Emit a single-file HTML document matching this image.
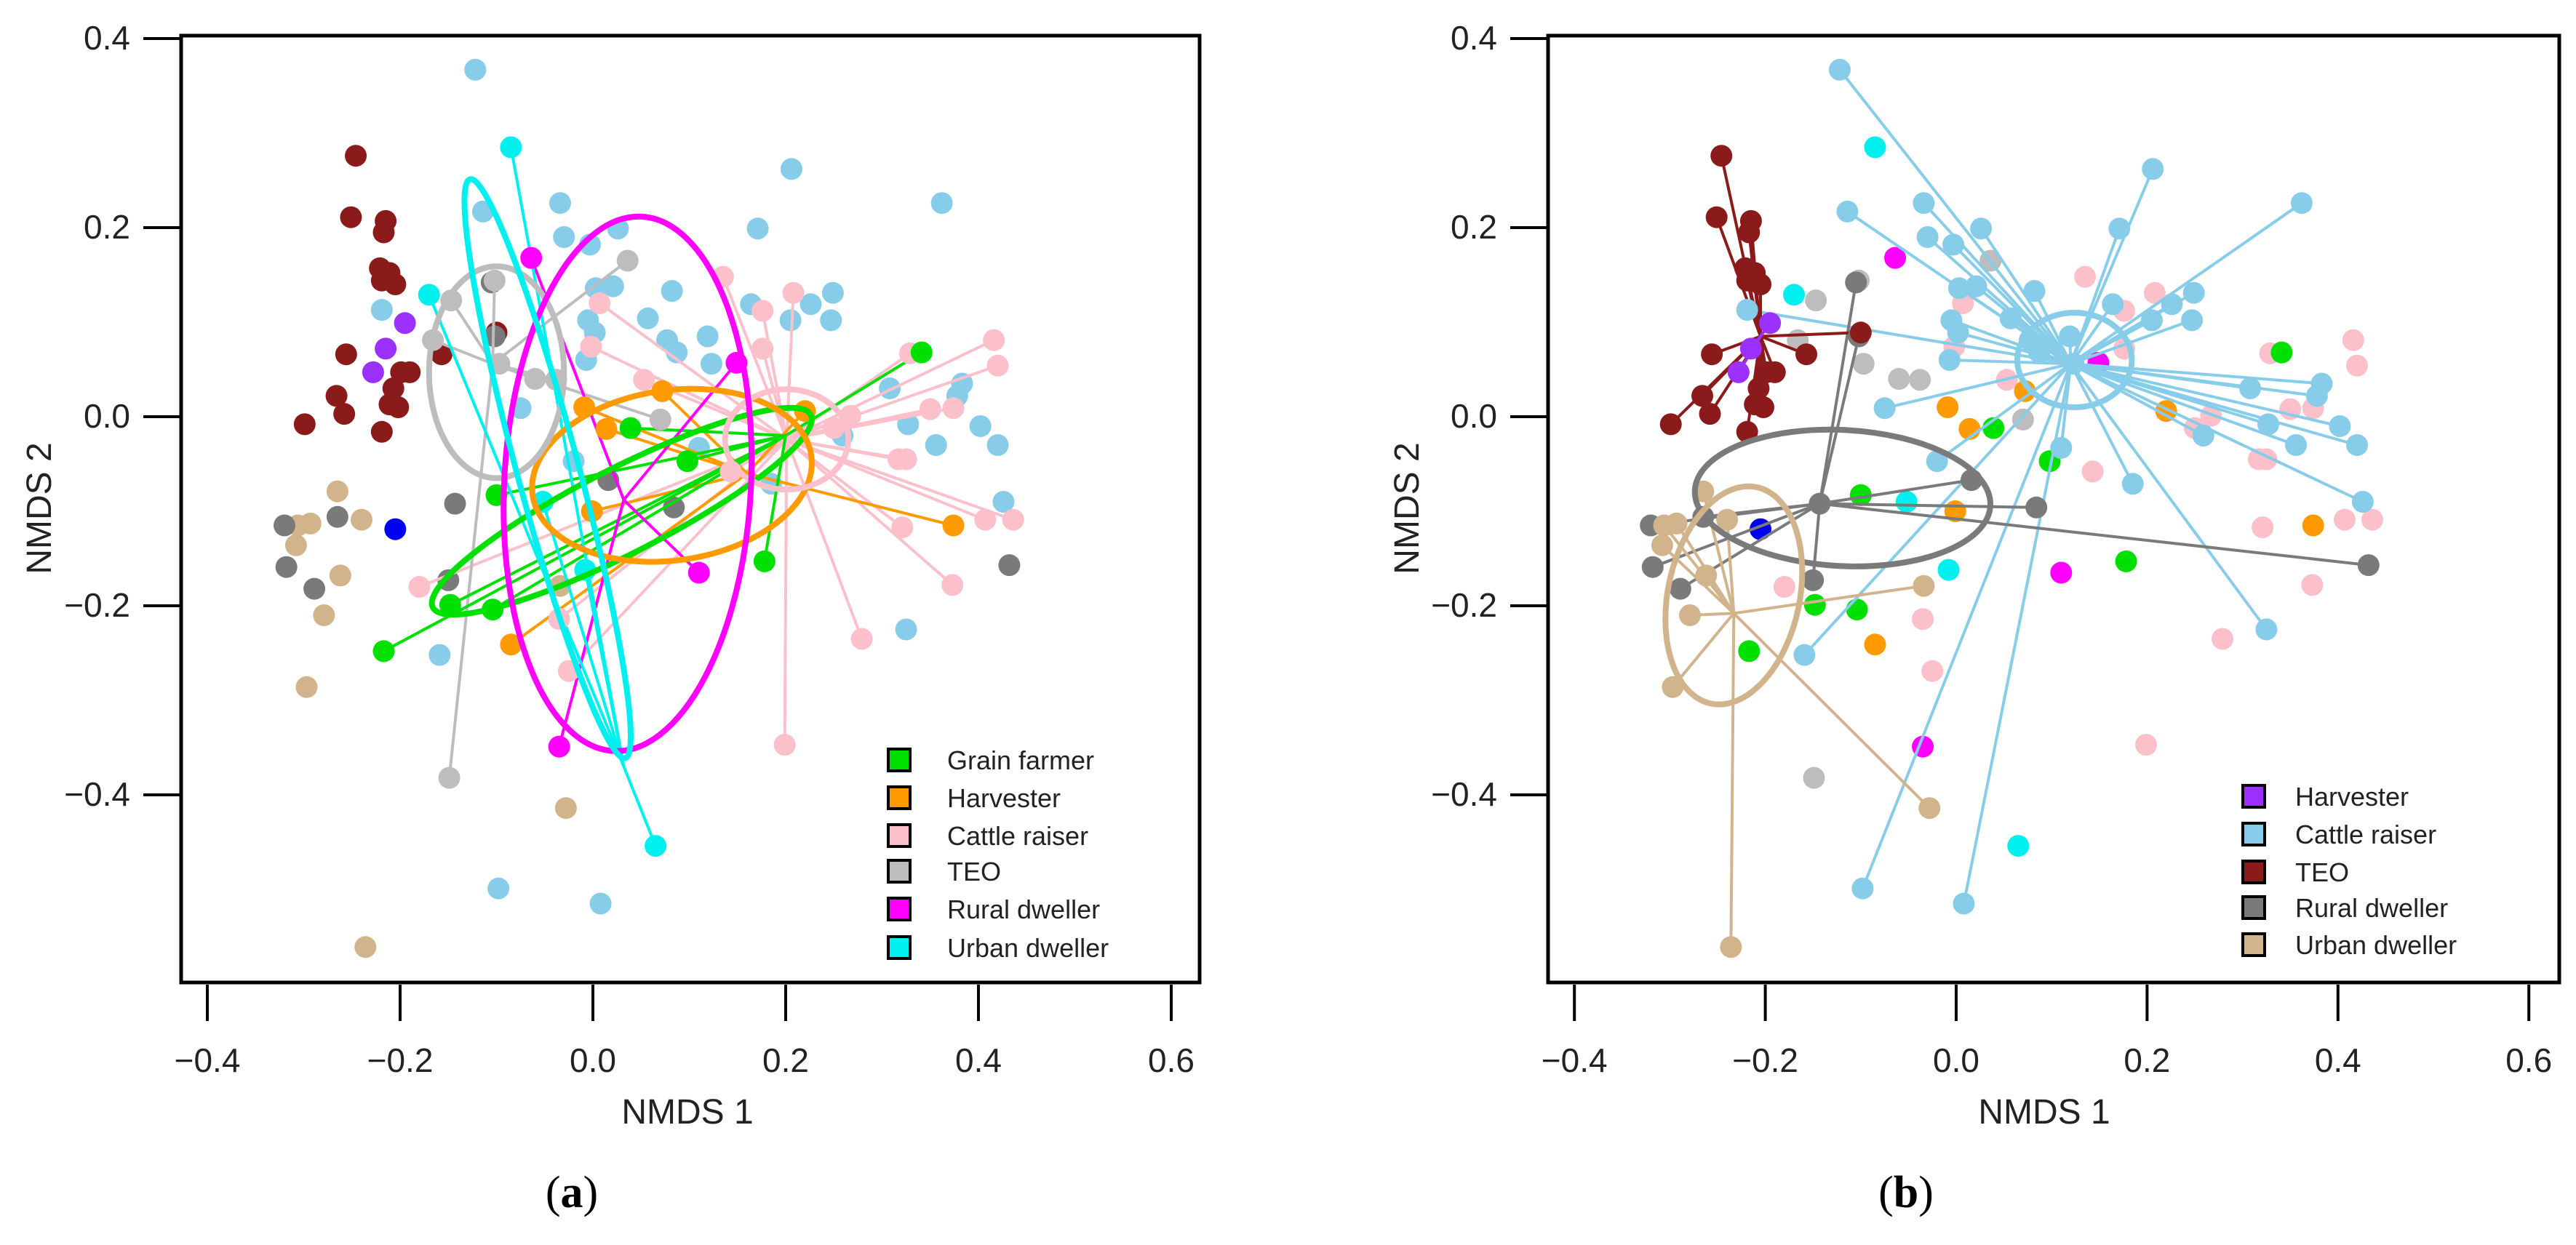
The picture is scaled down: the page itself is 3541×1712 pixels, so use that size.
<!DOCTYPE html>
<html><head><meta charset="utf-8"><style>
html,body{margin:0;padding:0;background:#fff;}
svg{display:block;}
text{font-family:"Liberation Sans",sans-serif;}
</style></head><body>
<svg id="chart" width="3541" height="1712" viewBox="0 0 3541 1712" xmlns="http://www.w3.org/2000/svg">
<rect width="3541" height="1712" fill="#fff"/>
</svg>
<script>
// ---- shared point sets (NMDS1, NMDS2) ----
const ptsLightBlue = [[-0.122,0.367],[-0.114,0.217],[-0.034,0.226],[-0.03,0.19],[-0.003,0.182],[0.026,0.199],[0.003,0.136],[0.021,0.138],[0.057,0.104],[0.082,0.133],[0.077,0.081],[0.087,0.068],[0.119,0.085],[0.123,0.056],[-0.005,0.102],[0.002,0.089],[-0.007,0.06],[-0.075,0.009],[-0.02,-0.047],[0.206,0.262],[0.171,0.199],[0.164,0.119],[0.205,0.102],[0.226,0.119],[0.249,0.131],[0.247,0.102],[0.362,0.226],[0.308,0.03],[0.327,-0.008],[0.356,-0.03],[0.383,0.035],[0.378,0.022],[0.402,-0.01],[0.42,-0.03],[0.426,-0.09],[0.325,-0.225],[-0.159,-0.252],[-0.098,-0.499],[0.008,-0.515],[-0.219,0.113],[0.11,-0.033],[0.185,-0.071],[0.259,-0.02]];
const ptsPink = [[0.416,0.081],[0.42,0.054],[0.329,0.067],[0.35,0.008],[0.374,0.009],[0.317,-0.045],[0.325,-0.045],[0.321,-0.117],[0.407,-0.109],[0.436,-0.109],[0.373,-0.178],[0.279,-0.235],[0.199,-0.347],[0.176,0.112],[0.208,0.131],[0.135,0.148],[-0.002,0.074],[0.007,0.12],[0.053,0.039],[-0.18,-0.18],[-0.035,-0.214],[-0.025,-0.269],[0.143,-0.058],[0.25,-0.012],[0.267,0.001],[0.176,0.072]];
const ptsGreen = [[0.341,0.068],[0.039,-0.012],[0.178,-0.153],[-0.217,-0.248],[-0.148,-0.199],[-0.104,-0.204],[-0.1,-0.083],[0.098,-0.047]];
const ptsOrange = [[0.374,-0.115],[-0.085,-0.241],[-0.001,-0.1],[-0.009,0.01],[0.014,-0.013],[0.072,0.027],[0.22,0.006]];
const ptsLightGray = [[0.036,0.165],[-0.102,0.144],[-0.097,0.056],[-0.166,0.081],[-0.149,-0.382],[-0.038,0.039],[-0.147,0.123],[-0.06,0.04],[0.07,-0.003]];
const ptsMagenta = [[-0.064,0.168],[0.149,0.057],[0.11,-0.165],[-0.035,-0.349]];
const ptsCyan = [[-0.085,0.285],[-0.17,0.129],[0.065,-0.454],[-0.008,-0.162],[-0.052,-0.09]];
const ptsPurple = [[-0.215,0.072],[-0.228,0.047],[-0.195,0.099]];
const ptsBlue = [[-0.205,-0.119]];
const ptsBrown = [[-0.246,0.276],[-0.251,0.211],[-0.215,0.207],[-0.217,0.195],[-0.221,0.157],[-0.211,0.152],[-0.205,0.14],[-0.219,0.144],[-0.256,0.066],[-0.266,0.022],[-0.258,0.003],[-0.299,-0.008],[-0.211,0.013],[-0.202,0.01],[-0.219,-0.016],[-0.199,0.047],[-0.19,0.047],[-0.157,0.066],[-0.1,0.089],[-0.207,0.03]];
const ptsTan = [[-0.265,-0.079],[-0.24,-0.109],[-0.306,-0.115],[-0.293,-0.113],[-0.308,-0.136],[-0.262,-0.168],[-0.279,-0.21],[-0.297,-0.286],[-0.236,-0.561],[-0.028,-0.414],[-0.034,-0.179]];
const ptsDarkGray = [[-0.32,-0.115],[-0.318,-0.159],[-0.289,-0.182],[-0.265,-0.106],[-0.143,-0.092],[0.016,-0.067],[0.084,-0.096],[0.432,-0.157],[-0.105,0.142],[-0.15,-0.173],[-0.102,0.085]];

// ---- centroids (spider hubs) ----
const cenAGreen = [0.2,-0.02];
const cenAOrange = [0.16,-0.06];
const cenAPink = [0.201,-0.024];
const cenALightGray = [-0.104,0.056];
const cenAMagenta = [0.032,-0.088];
const cenACyan = [0.032,-0.37];
const cenBCattle = [0.12,0.056];
const cenBTEO = [-0.205,0.085];
const cenBHarv = [-0.205,0.085];
const cenBRural = [-0.143,-0.092];
const cenBUrban = [-0.233,-0.208];

// ---- ellipses: [cx, cy, semiX, semiY, angleDeg] ----
const ellA = [
  ["green",[0.03,-0.1,0.22,0.045,27]],
  ["orange",[0.082,-0.062,0.146,0.09,8]],
  ["pink",[0.201,-0.024,0.064,0.053,0]],
  ["lightgray",[-0.1,0.047,0.07,0.112,0]],
  ["magenta",[0.036,-0.071,0.128,0.283,-3]],
  ["cyan",[-0.047,-0.055,0.032,0.317,15]]
];
const ellB = [
  ["lightblue",[0.124,0.06,0.06,0.05,0]],
  ["darkgray",[-0.119,-0.086,0.155,0.072,-3]],
  ["tan",[-0.233,-0.189,0.069,0.117,-12]]
];

const xTicks = [-0.4,-0.2,0.0,0.2,0.4,0.6];
const yTicks = [-0.4,-0.2,0.0,0.2,0.4];
const xTickLabels = ["\u22120.4","\u22120.2","0.0","0.2","0.4","0.6"];
const yTickLabels = ["\u22120.4","\u22120.2","0.0","0.2","0.4"];
const legendA = ["Grain farmer","Harvester","Cattle raiser","TEO","Rural dweller","Urban dweller"];
const legendB = ["Harvester","Cattle raiser","TEO","Rural dweller","Urban dweller"];

const COL = {green:"#00e000",orange:"#ff9a00",pink:"#fcc0ca",lightgray:"#bdbdbd",magenta:"#ff00ff",cyan:"#00f0f0",
  lightblue:"#87cdea",purple:"#9b30ff",blue:"#0000ee",brown:"#8b1a1a",tan:"#d2b48c",darkgray:"#7a7a7a"};

const NS="http://www.w3.org/2000/svg";
const svg=document.getElementById('chart');
function mk(tag,attrs,parent){const e=document.createElementNS(NS,tag);for(const k in attrs)e.setAttribute(k,attrs[k]);(parent||svg).appendChild(e);return e;}

const PA={x0:815,ux:1325,y0:573,uy:1300,left:249,right:1649,top:49,bottom:1351};
const PB={x0:2689,ux:1312,y0:573,uy:1300,left:2128,right:3518,top:49,bottom:1351};
function sx(P,v){return P.x0+v*P.ux;}
function sy(P,v){return P.y0-v*P.uy;}

function drawPoints(P,g,pts,col,name){
  pts.forEach(p=>{
    const c=mk('circle',{cx:sx(P,p[0]),cy:sy(P,p[1]),r:15,fill:COL[col]},g);
    
    
  });
}
function drawSpider(P,g,pts,cen,col,name){
  pts.forEach(p=>{
    const l=mk('line',{x1:sx(P,p[0]),y1:sy(P,p[1]),x2:sx(P,cen[0]),y2:sy(P,cen[1]),stroke:COL[col],'stroke-width':4},g);
    
    
  });
}
function drawEllipses(P,g,list,prefix){
  list.forEach(([col,e])=>{
    const cx=sx(P,e[0]),cy=sy(P,e[1]);
    const el=mk('ellipse',{cx:cx,cy:cy,rx:e[2]*P.ux,ry:e[3]*P.uy,fill:'none',stroke:COL[col],'stroke-width':8,transform:`rotate(${-e[4]} ${cx} ${cy})`},g);
    
    
  });
}
function drawAxes(P,g,prefix){
  const box=mk('rect',{x:P.left,y:P.top,width:P.right-P.left,height:P.bottom-P.top,fill:'none',stroke:'#000','stroke-width':5},g);
  
  
  xTicks.forEach((v,i)=>{
    const x=sx(P,v);
    const t=mk('line',{x1:x,y1:P.bottom+3,x2:x,y2:P.bottom+53,stroke:'#000','stroke-width':4},g);
    
    
    const lb=mk('text',{x:x,y:1474,'font-size':46,'text-anchor':'middle',fill:'#222'},g);
    lb.textContent=xTickLabels[i];
    
    
  });
  yTicks.forEach((v,i)=>{
    const y=sy(P,v);
    const t=mk('line',{x1:P.left-52,y1:y,x2:P.left,y2:y,stroke:'#000','stroke-width':4},g);
    
    
    const lb=mk('text',{x:P.left-70,y:y+15,'font-size':46,'text-anchor':'end',fill:'#222'},g);
    lb.textContent=yTickLabels[i];
    
    
  });
}
function drawLegend(g,items,cols,sqx,ys,tx,prefix){
  items.forEach((s,i)=>{
    const r=mk('rect',{x:sqx-15,y:ys[i]-15,width:30,height:30,fill:COL[cols[i]],stroke:'#000','stroke-width':4},g);
    
    
    const t=mk('text',{x:tx,y:ys[i]+13,'font-size':36,fill:'#222'},g);
    t.textContent=s;
    
    
  });
}

// ---------- Panel A ----------
const gA=mk('g',{});


drawPoints(PA,gA,ptsLightBlue,'lightblue','a-unassigned');
drawPoints(PA,gA,ptsBrown,'brown','a-unassigned');
drawPoints(PA,gA,ptsTan,'tan','a-unassigned');
drawPoints(PA,gA,ptsDarkGray,'darkgray','a-unassigned');
drawPoints(PA,gA,ptsPurple,'purple','a-unassigned');
drawPoints(PA,gA,ptsBlue,'blue','a-unassigned');
drawSpider(PA,gA,ptsPink,cenAPink,'pink','a-cattle-raiser');
drawSpider(PA,gA,ptsLightGray,cenALightGray,'lightgray','a-teo');
drawSpider(PA,gA,ptsOrange,cenAOrange,'orange','a-harvester');
drawSpider(PA,gA,ptsGreen,cenAGreen,'green','a-grain-farmer');
drawSpider(PA,gA,ptsMagenta,cenAMagenta,'magenta','a-rural-dweller');
drawSpider(PA,gA,ptsCyan,cenACyan,'cyan','a-urban-dweller');
drawPoints(PA,gA,ptsPink,'pink','a-cattle-raiser');
drawPoints(PA,gA,ptsLightGray,'lightgray','a-teo');
drawPoints(PA,gA,ptsOrange,'orange','a-harvester');
drawPoints(PA,gA,ptsGreen,'green','a-grain-farmer');
drawPoints(PA,gA,ptsMagenta,'magenta','a-rural-dweller');
drawPoints(PA,gA,ptsCyan,'cyan','a-urban-dweller');
drawEllipses(PA,gA,ellA,'a');
drawAxes(PA,gA,'a');
drawLegend(gA,legendA,['green','orange','pink','lightgray','magenta','cyan'],1236,[1045,1097,1149,1198,1250,1303],1302,'a');

// ---------- Panel B ----------
const gB=mk('g',{});


drawPoints(PB,gB,ptsPink,'pink','b-unassigned');
drawPoints(PB,gB,ptsOrange,'orange','b-unassigned');
drawPoints(PB,gB,ptsGreen,'green','b-unassigned');
drawPoints(PB,gB,ptsMagenta,'magenta','b-unassigned');
drawPoints(PB,gB,ptsCyan,'cyan','b-unassigned');
drawPoints(PB,gB,ptsLightGray,'lightgray','b-unassigned');
drawPoints(PB,gB,ptsBlue,'blue','b-unassigned');
drawSpider(PB,gB,ptsLightBlue,cenBCattle,'lightblue','b-cattle-raiser');
drawSpider(PB,gB,ptsDarkGray,cenBRural,'darkgray','b-rural-dweller');
drawSpider(PB,gB,ptsTan,cenBUrban,'tan','b-urban-dweller');
drawSpider(PB,gB,ptsBrown,cenBTEO,'brown','b-teo');
drawSpider(PB,gB,ptsPurple,cenBHarv,'purple','b-harvester');
drawPoints(PB,gB,ptsLightBlue,'lightblue','b-cattle-raiser');
drawPoints(PB,gB,ptsDarkGray,'darkgray','b-rural-dweller');
drawPoints(PB,gB,ptsTan,'tan','b-urban-dweller');
drawPoints(PB,gB,ptsBrown,'brown','b-teo');
drawPoints(PB,gB,ptsPurple,'purple','b-harvester');
drawEllipses(PB,gB,ellB,'b');
drawAxes(PB,gB,'b');
drawLegend(gB,legendB,['purple','lightblue','brown','darkgray','tan'],3098,[1095,1147,1199,1248,1299],3155,'b');

// ---------- Titles ----------
function txt(x,y,s,attrs,name){const t=mk('text',Object.assign({x:x,y:y},attrs));t.innerHTML=s;return t;}
txt(945,1545,'NMDS 1',{'font-size':48,'text-anchor':'middle',fill:'#222'},'a-x-axis-title');
txt(2810,1545,'NMDS 1',{'font-size':48,'text-anchor':'middle',fill:'#222'},'b-x-axis-title');
txt(70,699,'NMDS 2',{'font-size':48,'text-anchor':'middle',fill:'#222',transform:'rotate(-90 70 699)'},'a-y-axis-title');
txt(1950,699,'NMDS 2',{'font-size':48,'text-anchor':'middle',fill:'#222',transform:'rotate(-90 1950 699)'},'b-y-axis-title');
txt(786,1660,'(<tspan font-weight="bold">a</tspan>)',{'font-size':62,'text-anchor':'middle',fill:'#000',style:'font-family:"Liberation Serif",serif'},'panel-a-label');
txt(2620,1660,'(<tspan font-weight="bold">b</tspan>)',{'font-size':62,'text-anchor':'middle',fill:'#000',style:'font-family:"Liberation Serif",serif'},'panel-b-label');
</script>
</body></html>
